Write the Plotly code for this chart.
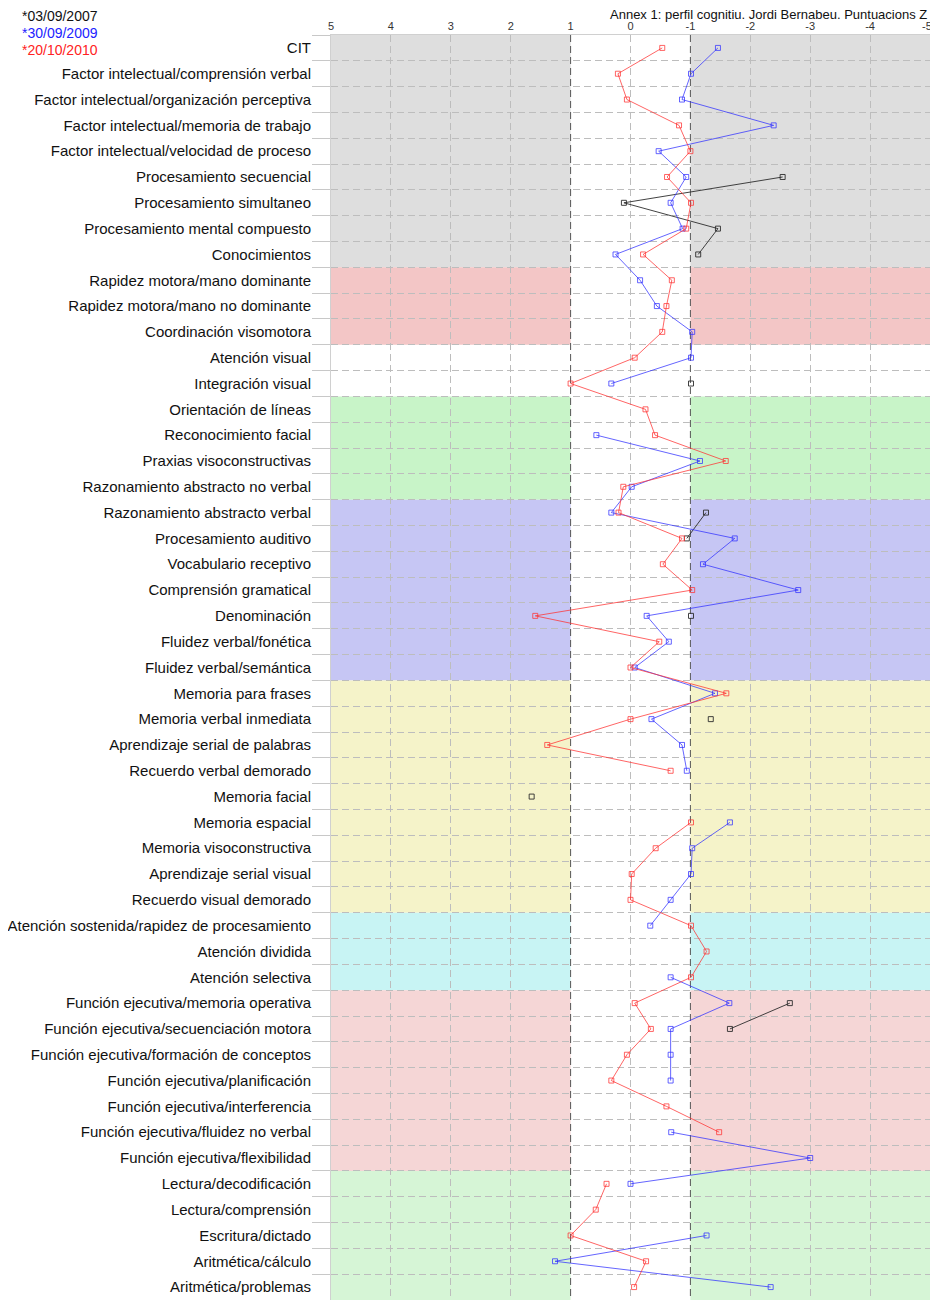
import plotly.graph_objects as go

categories = [
    "CIT",
    "Factor intelectual/comprensión verbal",
    "Factor intelectual/organización perceptiva",
    "Factor intelectual/memoria de trabajo",
    "Factor intelectual/velocidad de proceso",
    "Procesamiento secuencial",
    "Procesamiento simultaneo",
    "Procesamiento mental compuesto",
    "Conocimientos",
    "Rapidez motora/mano dominante",
    "Rapidez motora/mano no dominante",
    "Coordinación visomotora",
    "Atención visual",
    "Integración visual",
    "Orientación de líneas",
    "Reconocimiento facial",
    "Praxias visoconstructivas",
    "Razonamiento abstracto no verbal",
    "Razonamiento abstracto verbal",
    "Procesamiento auditivo",
    "Vocabulario receptivo",
    "Comprensión gramatical",
    "Denominación",
    "Fluidez verbal/fonética",
    "Fluidez verbal/semántica",
    "Memoria para frases",
    "Memoria verbal inmediata",
    "Aprendizaje serial de palabras",
    "Recuerdo verbal demorado",
    "Memoria facial",
    "Memoria espacial",
    "Memoria visoconstructiva",
    "Aprendizaje serial visual",
    "Recuerdo visual demorado",
    "Atención sostenida/rapidez de procesamiento",
    "Atención dividida",
    "Atención selectiva",
    "Función ejecutiva/memoria operativa",
    "Función ejecutiva/secuenciación motora",
    "Función ejecutiva/formación de conceptos",
    "Función ejecutiva/planificación",
    "Función ejecutiva/interferencia",
    "Función ejecutiva/fluidez no verbal",
    "Función ejecutiva/flexibilidad",
    "Lectura/decodificación",
    "Lectura/comprensión",
    "Escritura/dictado",
    "Aritmética/cálculo",
    "Aritmética/problemas",
]

N = None
# Z scores, one per category (None = not evaluated)
z_2007 = [N, N, N, N, N, -2.54, 0.11, -1.46, -1.13, N,
          N, N, N, -1.01, N, N, N, N, -1.26, -0.94,
          N, N, -1.01, N, N, N, -1.34, N, N, 1.65,
          N, N, N, N, N, N, N, -2.66, -1.66, N,
          N, N, N, N, N, N, N, N, N]
z_2009 = [-1.46, -1.01, -0.86, -2.39, -0.47, -0.93, -0.67, -0.87, 0.25, -0.16,
          -0.44, -1.03, -1.01, 0.32, N, 0.57, -1.16, -0.02, 0.32, -1.74,
          -1.21, -2.80, -0.27, -0.64, -0.07, -1.41, -0.35, -0.86, -0.94, N,
          -1.66, -1.03, -1.01, -0.67, -0.33, N, -0.67, -1.65, -0.67, -0.67,
          -0.67, N, -0.68, -3.00, 0.00, N, -1.27, 1.26, -2.34]
z_2010 = [-0.53, 0.21, 0.06, -0.81, -1.00, -0.61, -1.01, -0.93, -0.21, -0.69,
          -0.60, -0.53, -0.07, 1.00, -0.25, -0.41, -1.59, 0.12, 0.20, -0.86,
          -0.54, -1.03, 1.59, -0.48, 0.00, -1.60, 0.00, 1.39, -0.67, N,
          -1.01, -0.42, -0.02, 0.00, -1.01, -1.27, -1.01, -0.07, -0.34, 0.06,
          0.32, -0.60, -1.48, N, 0.40, 0.58, 1.00, -0.26, -0.06]

series_names = ["*03/09/2007", "*30/09/2009", "*20/10/2010"]
x_ticks = [5, 4, 3, 2, 1, 0, -1, -2, -3, -4, -5]
x_ticktext = ["5", "4", "3", "2", "1", "0", "-1", "-2", "-3", "-4", "-5\u00a0\u00a0"]
normal_limits = [1, -1]
title_text = "Annex 1: perfil cognitiu. Jordi Bernabeu. Puntuacions Z"

# group bands: (number of rows, colour or None for white)
group_sizes = [9, 3, 2, 4, 7, 9, 3, 7, 5]
group_colors = ["#dedede", "#f3c6c6", None, "#c8f4c8", "#c6c6f4",
                "#f5f3c9", "#c8f4f4", "#f5d6d6", "#d6f5d6"]

OFF = 8                      # page body margin
W, H = 938 - OFF, 1300 - OFF
ML, MR, MT, MB = 331 - OFF, 8, 35 - OFF, 0
PW, PH = W - ML - MR, H - MT - MB

def px_x(page_x):
    return (page_x - OFF - ML) / PW

def px_y(page_y):
    return 1 - (page_y - OFF - MT) / PH

rows = list(range(len(categories)))
series_colors = ["rgba(45,45,45,0.9)", "rgba(50,50,255,0.75)", "rgba(255,50,50,0.75)"]

fig = go.Figure()
for name, vals, col in zip(series_names, [z_2007, z_2009, z_2010], series_colors):
    fig.add_trace(go.Scatter(
        x=vals, y=rows, mode="lines+markers", name=name,
        line=dict(color=col, width=1),
        marker=dict(symbol="square-open", size=5, color=col, line=dict(width=1, color=col)),
        connectgaps=False, showlegend=False,
    ))

# background bands
start = 0
for size, col in zip(group_sizes, group_colors):
    if col:
        for x0, x1 in [(5, 1), (-1, -5)]:
            fig.add_shape(type="rect", xref="x", yref="y", x0=x0, x1=x1,
                          y0=start - 0.5, y1=start + size - 0.5,
                          fillcolor=col, line=dict(width=0), layer="below")
    start += size

# darker dashed lines at the normality limits
for xv in normal_limits:
    fig.add_shape(type="line", xref="x", yref="y", x0=xv, x1=xv,
                  y0=-0.5, y1=len(categories) - 0.5,
                  line=dict(color="#555555", width=1, dash="7px,4px"), layer="below")

# legend as coloured text
leg_colors = ["#111111", "#2222ff", "#ff2222"]
leg_y = [16, 33, 50]
for name, col, yy in zip(series_names, leg_colors, leg_y):
    fig.add_annotation(text=name, xref="paper", yref="paper",
                       x=px_x(20), y=px_y(yy),
                       xanchor="left", yanchor="middle", showarrow=False,
                       font=dict(family="Liberation Sans, Arial", size=14, color=col))

fig.add_annotation(text=title_text, xref="paper", yref="paper",
                   x=px_x(929), y=px_y(14),
                   xanchor="right", yanchor="middle", showarrow=False,
                   font=dict(family="Liberation Sans, Arial", size=13, color="#111111"))

grid_x = [v for v in x_ticks if v not in normal_limits]

fig.update_layout(
    width=W, height=H,
    margin=dict(l=ML, r=MR, t=MT, b=MB, pad=0),
    paper_bgcolor="white", plot_bgcolor="white",
    font=dict(family="Liberation Sans, Arial", size=15, color="#111111"),
    xaxis=dict(
        range=[5, -5], side="top", tickmode="array", tickvals=x_ticks, ticktext=x_ticktext,
        showgrid=False, zeroline=False, showline=True, linecolor="#d0d0d0", mirror=True,
        ticks="", tickfont=dict(size=11, color="#333333"), ticklabeloverflow="allow",
        minor=dict(tickvals=grid_x, showgrid=True, gridcolor="#bdbdbd",
                   griddash="7px,4px", gridwidth=1, ticks=""),
    ),
    yaxis=dict(
        range=[len(categories) - 0.5, -0.5], tickmode="array", tickvals=rows, ticktext=categories,
        showgrid=False, zeroline=False, showline=True, linecolor="#d0d0d0", mirror=True,
        ticks="outside", ticklen=16, tickcolor="rgba(0,0,0,0)", ticklabeloverflow="allow",
        tickfont=dict(size=15, color="#111111"),
        minor=dict(tickvals=[r - 0.5 for r in rows] + [len(rows) - 0.5], showgrid=True,
                   gridcolor="#bdbdbd", griddash="7px,4px", gridwidth=1,
                   ticks="outside", ticklen=18, tickcolor="#c8c8c8"),
    ),
)

fig.write_html("out.html")
